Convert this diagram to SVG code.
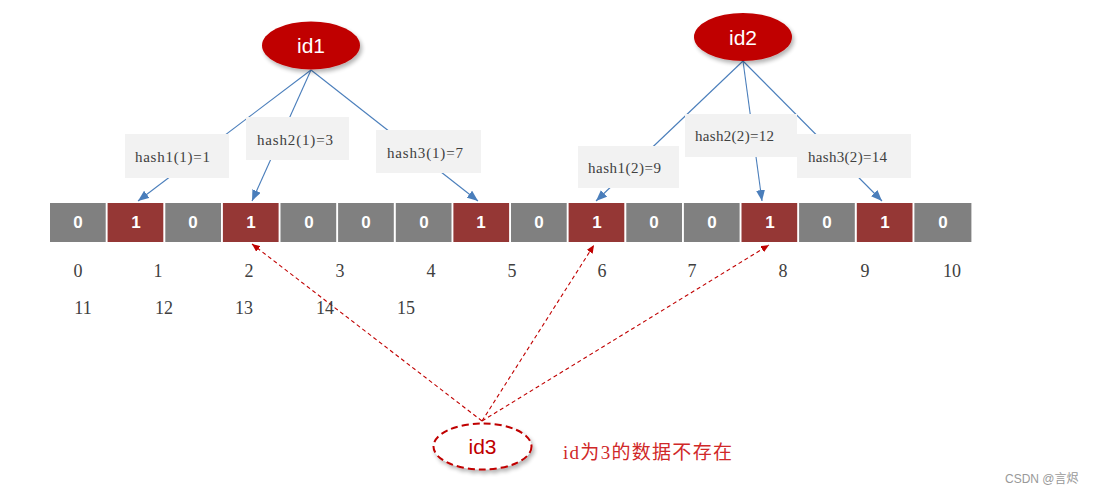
<svg xmlns="http://www.w3.org/2000/svg" width="1100" height="496" viewBox="0 0 1100 496">
<defs>
<style>
.cell0{fill:#808080}
.cell1{fill:#953735}
.cv{font-family:"Liberation Sans",Arial,sans-serif;font-weight:bold;font-size:17px;fill:#ffffff;text-anchor:middle}
.box{fill:#f2f2f2}
.bt{font-family:"Liberation Serif","Times New Roman",serif;font-size:15px;fill:#404040}
.idx{font-family:"Liberation Serif","Times New Roman",serif;font-size:18px;fill:#404040;text-anchor:middle}
.blue{stroke:#4a7ebb;stroke-width:1.1;fill:none;marker-end:url(#ab)}
.red{stroke:#c00000;stroke-width:1.1;fill:none;stroke-dasharray:4 3;marker-end:url(#ar)}
.idt{font-family:"Liberation Sans",Arial,sans-serif;font-size:21px;text-anchor:middle}
</style>
<marker id="ab" markerUnits="userSpaceOnUse" markerWidth="11" markerHeight="9" refX="11" refY="4.5" orient="auto"><path d="M0,0 L11,4.5 L0,9 z" fill="#4a7ebb"/></marker>
<marker id="ar" markerUnits="userSpaceOnUse" markerWidth="8" markerHeight="7" refX="8" refY="3.5" orient="auto"><path d="M0,0 L8,3.5 L0,7 z" fill="#c00000"/></marker>
<filter id="sh" x="-20%" y="-20%" width="150%" height="160%"><feGaussianBlur in="SourceAlpha" stdDeviation="2"/><feOffset dx="2" dy="3"/><feComponentTransfer><feFuncA type="linear" slope="0.3"/></feComponentTransfer><feMerge><feMergeNode/><feMergeNode in="SourceGraphic"/></feMerge></filter>
</defs>
<rect width="1100" height="496" fill="#ffffff"/>

<g id="connectors">
<line class="blue" x1="311" y1="70" x2="138" y2="201"/>
<line class="blue" x1="311" y1="70" x2="252" y2="201"/>
<line class="blue" x1="311" y1="70" x2="478" y2="201"/>
<line class="blue" x1="743" y1="61" x2="596" y2="201"/>
<line class="blue" x1="743" y1="61" x2="762" y2="201"/>
<line class="blue" x1="743" y1="61" x2="882" y2="201"/>
<line class="red" x1="482" y1="421" x2="252" y2="244"/>
<line class="red" x1="482" y1="421" x2="594" y2="245"/>
<line class="red" x1="482" y1="421" x2="769" y2="245"/>
</g>

<g id="hash1-1"><rect class="box" x="125" y="134" width="104" height="44"/><text class="bt" x="135" y="162" textLength="75">hash1(1)=1</text></g>
<g id="hash2-1"><rect class="box" x="246" y="117" width="103" height="43"/><text class="bt" x="257" y="144.5" textLength="76">hash2(1)=3</text></g>
<g id="hash3-1"><rect class="box" x="376" y="130" width="105" height="43"/><text class="bt" x="387" y="158" textLength="76">hash3(1)=7</text></g>
<g id="hash1-2"><rect class="box" x="578" y="146" width="101" height="42"/><text class="bt" x="588" y="172.5" textLength="73">hash1(2)=9</text></g>
<g id="hash2-2"><rect class="box" x="685" y="114" width="112" height="43"/><text class="bt" x="695" y="140.5" textLength="79">hash2(2)=12</text></g>
<g id="hash3-2"><rect class="box" x="797" y="134" width="114" height="44"/><text class="bt" x="808" y="161.5" textLength="79">hash3(2)=14</text></g>

<g id="id1"><ellipse cx="311" cy="45.5" rx="49" ry="24" fill="#c00000" filter="url(#sh)"/><text class="idt" x="311" y="53" fill="#ffffff">id1</text></g>
<g id="id2"><ellipse cx="743" cy="37" rx="49" ry="24" fill="#c00000" filter="url(#sh)"/><text class="idt" x="743" y="44.5" fill="#ffffff">id2</text></g>

<g id="bitarray">
<rect class="cell0" x="50" y="203" width="55.7" height="39"/>
<rect class="cell1" x="107.6" y="203" width="55.7" height="39"/>
<rect class="cell0" x="165.3" y="203" width="55.7" height="39"/>
<rect class="cell1" x="222.9" y="203" width="55.7" height="39"/>
<rect class="cell0" x="280.5" y="203" width="55.7" height="39"/>
<rect class="cell0" x="338.1" y="203" width="55.7" height="39"/>
<rect class="cell0" x="395.8" y="203" width="55.7" height="39"/>
<rect class="cell1" x="453.4" y="203" width="55.7" height="39"/>
<rect class="cell0" x="511" y="203" width="55.7" height="39"/>
<rect class="cell1" x="568.6" y="203" width="55.7" height="39"/>
<rect class="cell0" x="626.3" y="203" width="55.7" height="39"/>
<rect class="cell0" x="683.9" y="203" width="55.7" height="39"/>
<rect class="cell1" x="741.5" y="203" width="55.7" height="39"/>
<rect class="cell0" x="799.1" y="203" width="55.7" height="39"/>
<rect class="cell1" x="856.8" y="203" width="55.7" height="39"/>
<rect class="cell0" x="914.4" y="203" width="57" height="39"/>
<text class="cv" x="78" y="228">0</text>
<text class="cv" x="136" y="228">1</text>
<text class="cv" x="193" y="228">0</text>
<text class="cv" x="251" y="228">1</text>
<text class="cv" x="309" y="228">0</text>
<text class="cv" x="366" y="228">0</text>
<text class="cv" x="424" y="228">0</text>
<text class="cv" x="481" y="228">1</text>
<text class="cv" x="539" y="228">0</text>
<text class="cv" x="597" y="228">1</text>
<text class="cv" x="654" y="228">0</text>
<text class="cv" x="712" y="228">0</text>
<text class="cv" x="770" y="228">1</text>
<text class="cv" x="827" y="228">0</text>
<text class="cv" x="885" y="228">1</text>
<text class="cv" x="943" y="228">0</text>
</g>

<g id="indices">
<text class="idx" x="78" y="277">0</text>
<text class="idx" x="158" y="277">1</text>
<text class="idx" x="249" y="277">2</text>
<text class="idx" x="340" y="277">3</text>
<text class="idx" x="431" y="277">4</text>
<text class="idx" x="512" y="277">5</text>
<text class="idx" x="602" y="277">6</text>
<text class="idx" x="692" y="277">7</text>
<text class="idx" x="783" y="277">8</text>
<text class="idx" x="865" y="277">9</text>
<text class="idx" x="952" y="277">10</text>
<text class="idx" x="83" y="314">11</text>
<text class="idx" x="164" y="314">12</text>
<text class="idx" x="244" y="314">13</text>
<text class="idx" x="325" y="314">14</text>
<text class="idx" x="406" y="314">15</text>
</g>

<g id="id3"><ellipse cx="482.5" cy="446.5" rx="49" ry="23" fill="#ffffff" stroke="#c00000" stroke-width="2" stroke-dasharray="7 4" filter="url(#sh)"/><text class="idt" x="482.5" y="454" fill="#c00000">id3</text></g>

<g id="note"><text x="563" y="459" font-family="'Liberation Serif','Noto Sans CJK SC',serif" font-size="19" fill="#d02828" textLength="169">id为3的数据不存在</text></g>

<g id="watermark"><text x="1005" y="483" font-family="'Liberation Sans','Noto Sans CJK SC',sans-serif" font-size="12" fill="#999999">CSDN @言烬</text></g>
</svg>
